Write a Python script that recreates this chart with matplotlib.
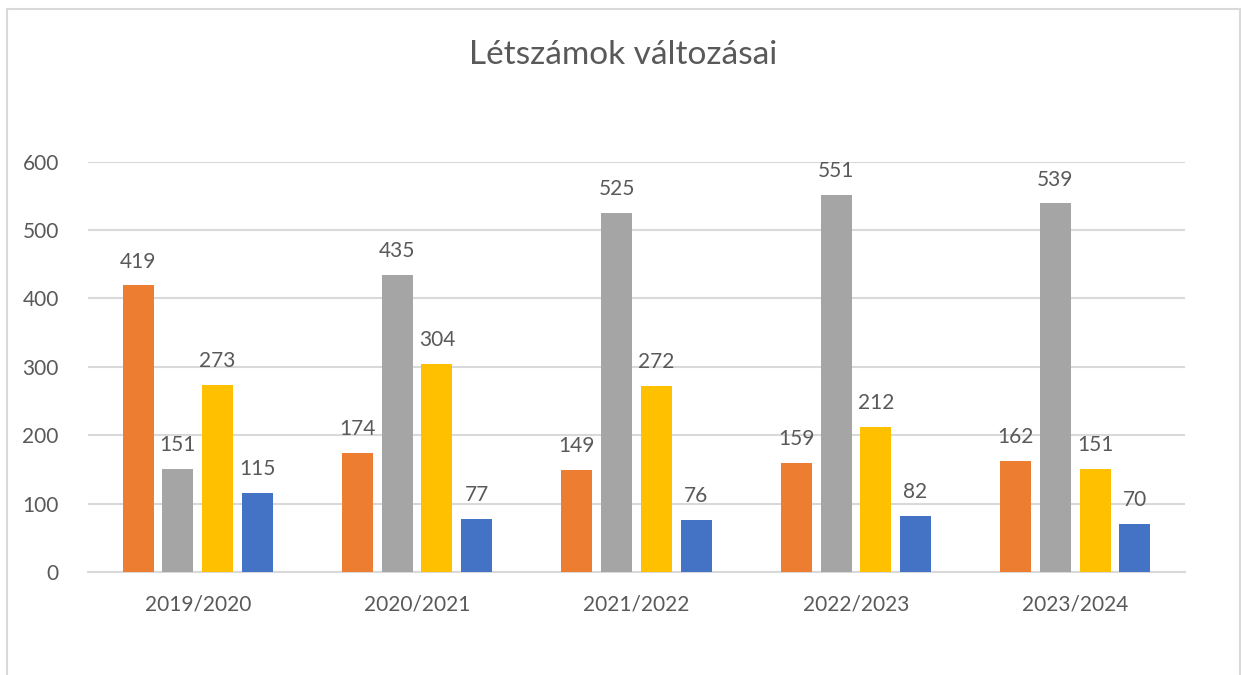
import matplotlib
matplotlib.use("Agg")
import matplotlib.pyplot as plt
from matplotlib.patches import Rectangle
import numpy as np

plt.rcParams['font.family'] = ['Lato', 'DejaVu Sans']

categories = ["2019/2020", "2020/2021", "2021/2022", "2022/2023", "2023/2024"]
series_a = [419, 174, 149, 159, 162]   # orange
series_b = [151, 435, 525, 551, 539]   # gray
series_c = [273, 304, 272, 212, 151]   # yellow
series_d = [115, 77, 76, 82, 70]       # blue
colors = ["#ED7D31", "#A5A5A5", "#FFC000", "#4472C4"]
yticks = [0, 100, 200, 300, 400, 500, 600]

W, H = 1241, 675
fig = plt.figure(figsize=(W / 100, H / 100), dpi=100)
fig.patch.set_facecolor("white")

# outer chart border
fig.patches.append(Rectangle((7 / W, -0.05), (1240 - 7) / W, 1.05 - 9 / H,
                             transform=fig.transFigure, fill=False,
                             edgecolor="#d9d9d9", linewidth=1.5))

ax = fig.add_axes([88 / W, 1 - 572 / H, (1185 - 88) / W, (572 - 161.7) / H])
x = np.arange(len(categories))
pitch = 0.181
width = 0.141
text_color = "#595959"
for i, (vals, c) in enumerate(zip([series_a, series_b, series_c, series_d], colors)):
    pos = x + (i - 1.5) * pitch
    bars = ax.bar(pos, vals, width=width, color=c, zorder=3)
    for b, v in zip(bars, vals):
        ax.annotate(str(v), (b.get_x() + b.get_width() / 2, v), xytext=(0, 10),
                    textcoords="offset points", ha="center", va="bottom",
                    fontsize=15, color=text_color)

ax.set_xlim(-0.5, len(categories) - 0.5)
ax.set_ylim(0, 600)
ax.set_yticks(yticks)
ax.set_xticks(x)
ax.set_xticklabels(categories)
ax.grid(axis="y", color="#d9d9d9", linewidth=1.5, zorder=0)
for s in ["top", "right", "left"]:
    ax.spines[s].set_visible(False)
ax.spines["bottom"].set_color("#d9d9d9")
ax.spines["bottom"].set_linewidth(1.5)
ax.tick_params(axis="both", length=0, labelsize=15, colors=text_color)
ax.tick_params(axis="y", pad=21)
ax.tick_params(axis="x", pad=16)

fig.text(623 / W, 1 - 55 / H, "Létszámok változásai", ha="center", va="center",
         fontsize=24, color=text_color)

fig.savefig("out.png", dpi=100, facecolor="white")
